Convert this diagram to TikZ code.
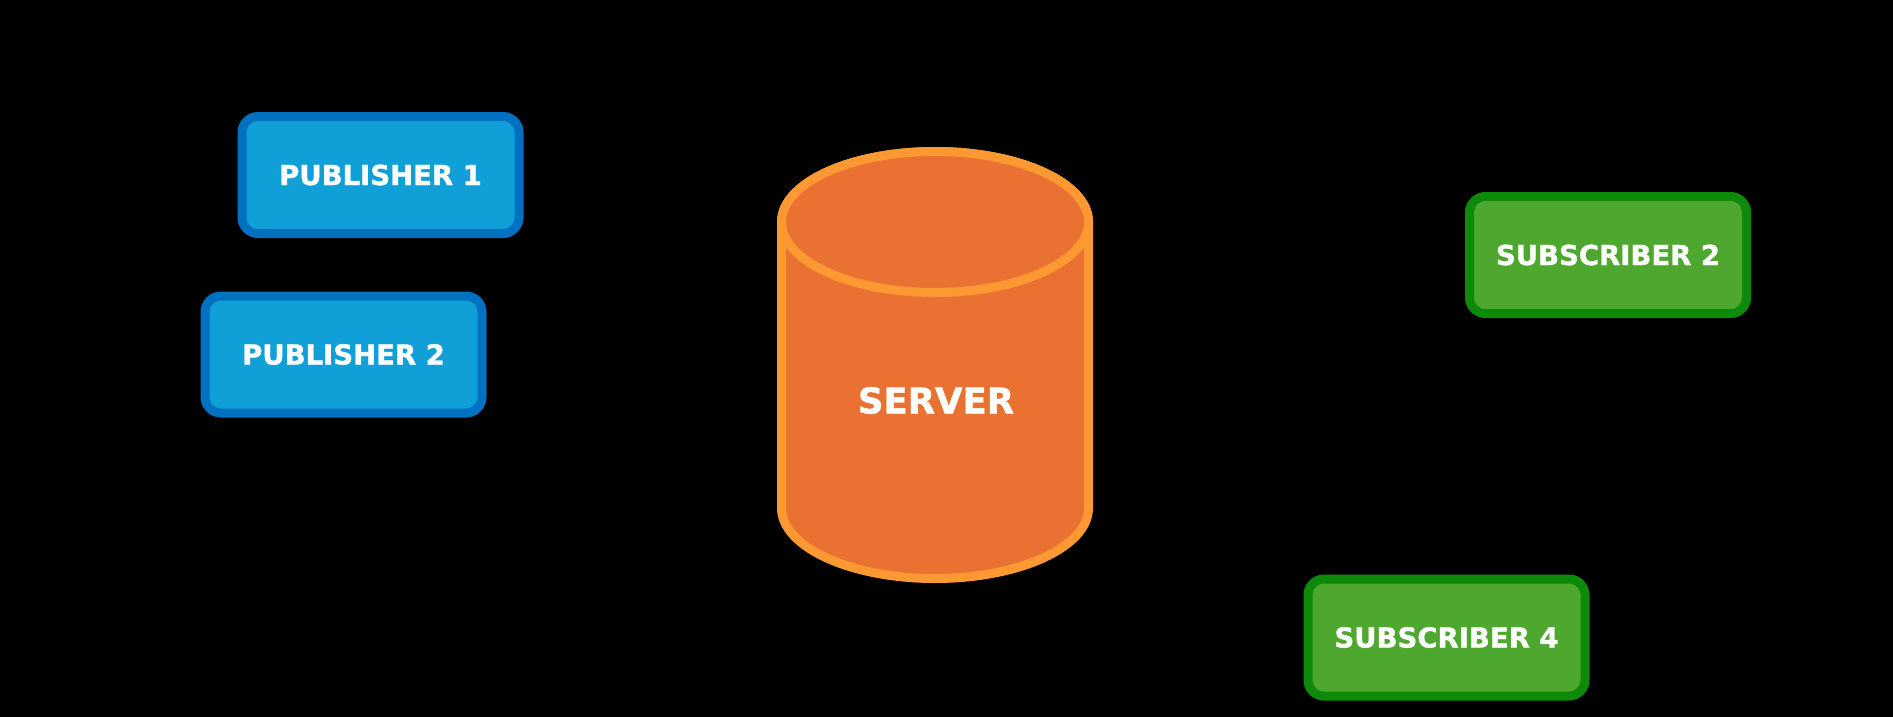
\documentclass[tikz,border=0pt]{standalone}
\usepackage{fontspec}
\setmainfont{DejaVu Sans}
\newfontfamily\heavyfont{DejaVu Sans}[Weight=Bold, BoldFont={DejaVu Sans Bold}, UprightFont={DejaVu Sans Bold}, FakeBold=1.2]
\definecolor{pubfill}{HTML}{109FD6}
\definecolor{publine}{HTML}{0070C0}
\definecolor{subfill}{HTML}{4EA72E}
\definecolor{subline}{HTML}{0E8A0A}
\definecolor{srvfill}{HTML}{E97132}
\definecolor{srvline}{HTML}{FD9933}
\begin{document}
\begin{tikzpicture}[x=1pt,y=-1pt,
  boxbase/.style={rectangle, rounded corners=16pt, line width=9pt,
    minimum width=277pt, minimum height=117pt, inner sep=0pt,
    text=white, font=\heavyfont\fontsize{27.5}{33}\selectfont},
  pubbox/.style={boxbase, fill=pubfill, draw=publine},
  subbox/.style={boxbase, fill=subfill, draw=subline},
  srvshape/.style={fill=srvfill, draw=srvline, line width=9pt},
  srvtext/.style={text=white, font=\heavyfont\fontsize{35.5}{42}\selectfont, inner sep=0pt}]
\useasboundingbox (0,0) rectangle (1893,716);
\fill[black] (-5,-5) rectangle (1898,721);
% server cylinder
\path[srvshape] (781.5,222) -- (781.5,508)
  arc[start angle=180, end angle=360, x radius=153.5pt, y radius=70.5pt]
  -- (1088.5,222)
  arc[start angle=0, end angle=180, x radius=153.5pt, y radius=70.5pt] -- cycle;
\path[srvshape] (935,222) ellipse[x radius=153.5pt, y radius=70.5pt];
\node[srvtext] (server) at (936,400.5) {SERVER};
% publishers
\node[pubbox] (pub1) at (380.5,175) {PUBLISHER 1};
\node[pubbox] (pub2) at (343.5,354.5) {PUBLISHER 2};
% subscribers
\node[subbox] (sub2) at (1608,255) {SUBSCRIBER 2};
\node[subbox] (sub4) at (1446.5,637.5) {SUBSCRIBER 4};
\end{tikzpicture}
\end{document}
